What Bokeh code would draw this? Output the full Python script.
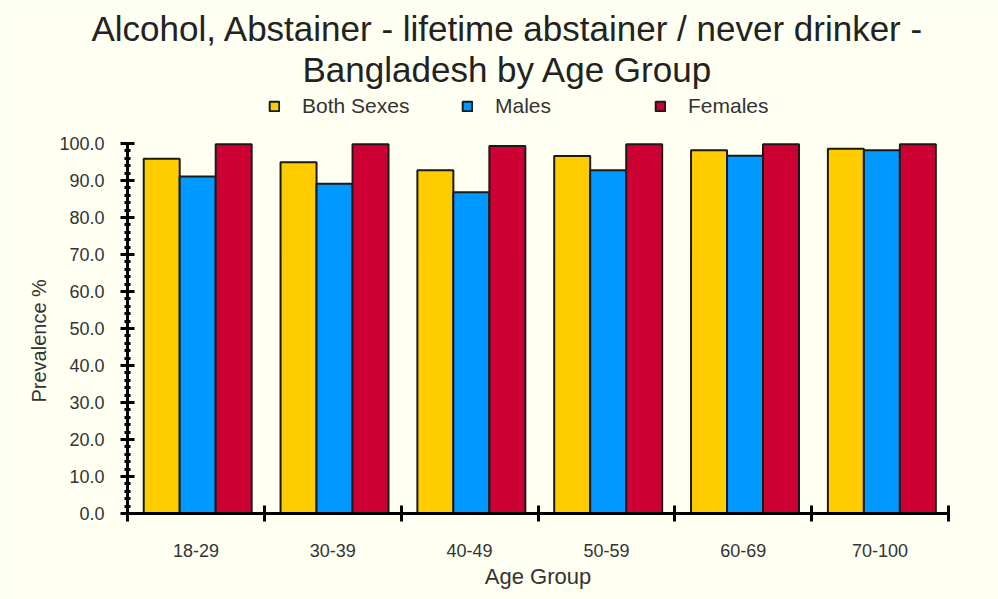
from bokeh.plotting import figure
from bokeh.models import (ColumnDataSource, FixedTicker, Range1d, Legend, LegendItem,
                          Title, NumeralTickFormatter)
from bokeh.transform import dodge
from bokeh.embed import file_html
from bokeh.resources import INLINE

age_groups = ["18-29", "30-39", "40-49", "50-59", "60-69", "70-100"]
both_sexes = [95.9, 94.9, 92.8, 96.6, 98.2, 98.6]
males = [91.1, 89.1, 86.8, 92.8, 96.7, 98.2]
females = [99.8, 99.8, 99.3, 99.8, 99.8, 99.8]

series_names = ["Both Sexes", "Males", "Females"]
series_colors = ["#FFCC00", "#0099FF", "#CC0033"]

BG = "#FFFFF2"
FONT = "Liberation Sans"
TXT = "#333333"

W, H = 998, 599
B_LEFT, B_RIGHT, B_TOP, B_BOTTOM = 127, 50, 88, 86
frame_h = H - B_TOP - B_BOTTOM
px_per_100 = 370.0  # vertical pixels spanned by 0..100
y_end = 100.0 * frame_h / px_per_100

centers = [i + 0.5 for i in range(len(age_groups))]
src = ColumnDataSource(dict(x=centers, both=both_sexes, males=males, females=females))

p = figure(width=W, height=H, x_range=Range1d(0, len(age_groups)), y_range=Range1d(0, y_end),
           output_backend="svg", toolbar_location=None,
           background_fill_color=BG, border_fill_color=BG, outline_line_color=None,
           min_border_left=B_LEFT, min_border_right=B_RIGHT,
           min_border_bottom=B_BOTTOM, min_border_top=B_TOP)
p.grid.visible = False

bw = 0.263
renderers = []
for col, off, color in zip(["both", "males", "females"], [-0.25, 0.013, 0.276], series_colors):
    r = p.vbar(x=dodge("x", off, range=p.x_range), top=col, width=bw, source=src,
               fill_color=color, line_color="#1a1a1a", line_width=2)
    renderers.append(r)

# x axis
xa = p.xaxis[0]
xa.ticker = FixedTicker(ticks=centers, minor_ticks=list(range(len(age_groups) + 1)))
xa.major_label_overrides = {c: g for c, g in zip(centers, age_groups)}
xa.major_tick_in = 0
xa.major_tick_out = 0
xa.minor_tick_in = 8
xa.minor_tick_out = 8
xa.minor_tick_line_width = 3
xa.minor_tick_line_color = "black"
xa.axis_line_width = 3
xa.axis_line_color = "black"
xa.major_label_standoff = 22
xa.major_label_text_font = FONT
xa.major_label_text_font_size = "18px"
xa.major_label_text_color = TXT
xa.axis_label = "Age Group"
xa.axis_label_text_font = FONT
xa.axis_label_text_font_size = "22px"
xa.axis_label_text_font_style = "normal"
xa.axis_label_text_color = TXT
xa.axis_label_standoff = 4

# y axis
ya = p.yaxis[0]
ya.bounds = (0, 100)
ya.ticker = FixedTicker(ticks=list(range(0, 101, 10)), minor_ticks=list(range(0, 101, 2)))
ya.formatter = NumeralTickFormatter(format="0.0")
ya.major_tick_in = 7
ya.major_tick_out = 7
ya.major_tick_line_width = 3
ya.major_tick_line_color = "black"
ya.minor_tick_in = 3
ya.minor_tick_out = 3
ya.minor_tick_line_width = 3
ya.minor_tick_line_color = "black"
ya.axis_line_width = 3
ya.axis_line_color = "black"
ya.major_label_standoff = 16
ya.major_label_text_font = FONT
ya.major_label_text_font_size = "18px"
ya.major_label_text_color = TXT

# y axis title as a left-side title, aligned along the 0..100 span
ytitle = Title(text="Prevalence %", align="left", offset=111, text_font=FONT,
               text_font_size="20px", text_font_style="normal", text_color=TXT, standoff=13)
p.add_layout(ytitle, "left")

# legend inside the frame, above the 100 line
legend = Legend(items=[LegendItem(label=n, renderers=[r]) for n, r in zip(series_names, renderers)],
                orientation="horizontal", location=(141, frame_h - 30),
                background_fill_alpha=0, border_line_color=None,
                glyph_width=12, glyph_height=12, label_standoff=22, label_width=159, spacing=0,
                label_text_font=FONT, label_text_font_size="21px", label_text_color=TXT,
                padding=2, margin=0)
p.add_layout(legend, "center")

t2 = Title(text="Bangladesh by Age Group", align="left", text_font=FONT, offset=175,
           text_font_size="35px", text_font_style="normal", text_color="#222222", standoff=0)
t1 = Title(text="Alcohol, Abstainer - lifetime abstainer / never drinker -", align="left",
           text_font=FONT, text_font_size="35px", text_font_style="normal", text_color="#222222",
           standoff=0, offset=-36)
p.add_layout(t2, "above")
p.add_layout(t1, "above")

open("out.html", "w").write(file_html(p, INLINE))
